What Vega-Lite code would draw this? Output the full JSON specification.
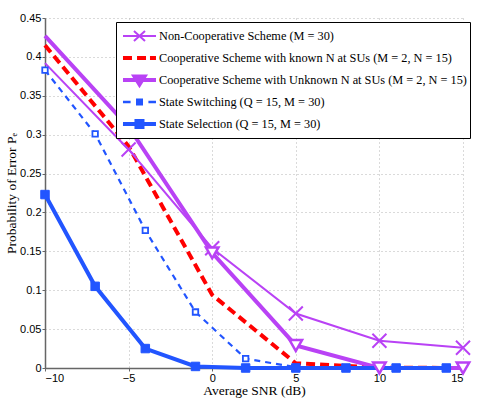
{
  "$schema": "https://vega.github.io/schema/vega-lite/v6.json",
  "width": 418,
  "height": 350,
  "autosize": {"type": "none"},
  "padding": {"left": 45, "top": 18, "right": 22, "bottom": 31},
  "background": "white",
  "config": {
    "view": {"stroke": null},
    "axis": {
      "labelFont": "Liberation Sans",
      "labelFontSize": 11,
      "labelColor": "black",
      "titleFont": "Liberation Serif",
      "titleFontSize": 13.5,
      "titleFontWeight": "normal",
      "titleColor": "black",
      "domainColor": "#666666",
      "domainWidth": 1.5,
      "tickColor": "#666666",
      "tickSize": 3,
      "labelPadding": 1,
      "grid": true,
      "gridColor": "#b5b5b5",
      "gridDash": [1, 3],
      "gridWidth": 1
    }
  },
  "data": {
    "values": [
      {"series": "Non-Cooperative Scheme (M = 30)", "snr": -10, "pe": 0.392},
      {"series": "Non-Cooperative Scheme (M = 30)", "snr": -5, "pe": 0.281},
      {"series": "Non-Cooperative Scheme (M = 30)", "snr": 0, "pe": 0.154},
      {"series": "Non-Cooperative Scheme (M = 30)", "snr": 5, "pe": 0.070},
      {"series": "Non-Cooperative Scheme (M = 30)", "snr": 10, "pe": 0.035},
      {"series": "Non-Cooperative Scheme (M = 30)", "snr": 15, "pe": 0.026},
      {"series": "Cooperative Scheme with known N at SUs (M = 2, N = 15)", "snr": -10, "pe": 0.415},
      {"series": "Cooperative Scheme with known N at SUs (M = 2, N = 15)", "snr": -5, "pe": 0.285},
      {"series": "Cooperative Scheme with known N at SUs (M = 2, N = 15)", "snr": 0, "pe": 0.094},
      {"series": "Cooperative Scheme with known N at SUs (M = 2, N = 15)", "snr": 5, "pe": 0.006},
      {"series": "Cooperative Scheme with known N at SUs (M = 2, N = 15)", "snr": 10, "pe": 0.0005},
      {"series": "Cooperative Scheme with known N at SUs (M = 2, N = 15)", "snr": 15, "pe": 0},
      {"series": "Cooperative Scheme with Unknown N at SUs (M = 2, N = 15)", "snr": -10, "pe": 0.427},
      {"series": "Cooperative Scheme with Unknown N at SUs (M = 2, N = 15)", "snr": -5, "pe": 0.31},
      {"series": "Cooperative Scheme with Unknown N at SUs (M = 2, N = 15)", "snr": 0, "pe": 0.148},
      {"series": "Cooperative Scheme with Unknown N at SUs (M = 2, N = 15)", "snr": 5, "pe": 0.029},
      {"series": "Cooperative Scheme with Unknown N at SUs (M = 2, N = 15)", "snr": 10, "pe": 0},
      {"series": "Cooperative Scheme with Unknown N at SUs (M = 2, N = 15)", "snr": 15, "pe": 0},
      {"series": "State Switching (Q = 15, M = 30)", "snr": -10, "pe": 0.383},
      {"series": "State Switching (Q = 15, M = 30)", "snr": -7, "pe": 0.301},
      {"series": "State Switching (Q = 15, M = 30)", "snr": -4, "pe": 0.177},
      {"series": "State Switching (Q = 15, M = 30)", "snr": -1, "pe": 0.072},
      {"series": "State Switching (Q = 15, M = 30)", "snr": 2, "pe": 0.012},
      {"series": "State Switching (Q = 15, M = 30)", "snr": 5, "pe": 0.001},
      {"series": "State Switching (Q = 15, M = 30)", "snr": 8, "pe": 0},
      {"series": "State Switching (Q = 15, M = 30)", "snr": 11, "pe": 0},
      {"series": "State Switching (Q = 15, M = 30)", "snr": 14, "pe": 0},
      {"series": "State Selection (Q = 15, M = 30)", "snr": -10, "pe": 0.223},
      {"series": "State Selection (Q = 15, M = 30)", "snr": -7, "pe": 0.105},
      {"series": "State Selection (Q = 15, M = 30)", "snr": -4, "pe": 0.025},
      {"series": "State Selection (Q = 15, M = 30)", "snr": -1, "pe": 0.002},
      {"series": "State Selection (Q = 15, M = 30)", "snr": 2, "pe": 0},
      {"series": "State Selection (Q = 15, M = 30)", "snr": 5, "pe": 0},
      {"series": "State Selection (Q = 15, M = 30)", "snr": 8, "pe": 0},
      {"series": "State Selection (Q = 15, M = 30)", "snr": 11, "pe": 0},
      {"series": "State Selection (Q = 15, M = 30)", "snr": 14, "pe": 0}
    ]
  },
  "encoding": {
    "x": {
      "field": "snr",
      "type": "quantitative",
      "scale": {"domain": [-10, 15], "nice": false, "zero": false},
      "axis": {"title": "Average SNR (dB)", "values": [-10, -5, 0, 5, 10, 15], "titlePadding": 0}
    },
    "y": {
      "field": "pe",
      "type": "quantitative",
      "scale": {"domain": [0, 0.45], "nice": false},
      "axis": {"title": "Probability of Error Pₑ", "values": [0, 0.05, 0.1, 0.15, 0.2, 0.25, 0.3, 0.35, 0.4, 0.45], "format": "~g", "titlePadding": 1}
    }
  },
  "layer": [
    {
      "transform": [{"filter": "datum.series === 'Cooperative Scheme with known N at SUs (M = 2, N = 15)'"}],
      "mark": {"type": "line", "color": "#ff0000", "strokeWidth": 4, "strokeDash": [9, 5], "strokeCap": "butt"},
      "encoding": {}
    },
    {
      "transform": [{"filter": "datum.series === 'Cooperative Scheme with Unknown N at SUs (M = 2, N = 15)'"}],
      "mark": {"type": "line", "color": "#b942f5", "strokeWidth": 4, "strokeCap": "butt"},
      "encoding": {}
    },
    {
      "transform": [{"filter": "datum.series === 'State Switching (Q = 15, M = 30)'"}],
      "mark": {"type": "line", "color": "#2255ff", "strokeWidth": 2.2, "strokeDash": [6, 5], "strokeCap": "butt"},
      "encoding": {}
    },
    {
      "transform": [{"filter": "datum.series === 'State Selection (Q = 15, M = 30)'"}],
      "mark": {"type": "line", "color": "#2255ff", "strokeWidth": 4, "strokeCap": "butt"},
      "encoding": {}
    },
    {
      "transform": [{"filter": "datum.series === 'Non-Cooperative Scheme (M = 30)'"}],
      "mark": {"type": "line", "strokeCap": "butt"},
      "encoding": {
        "color": {
          "field": "series",
          "type": "nominal",
          "scale": {
            "domain": [
              "Non-Cooperative Scheme (M = 30)",
              "Cooperative Scheme with known N at SUs (M = 2, N = 15)",
              "Cooperative Scheme with Unknown N at SUs (M = 2, N = 15)",
              "State Switching (Q = 15, M = 30)",
              "State Selection (Q = 15, M = 30)"
            ],
            "range": ["#b942f5", "#ff0000", "#b942f5", "#2255ff", "#2255ff"]
          },
          "legend": {
            "title": null,
            "orient": "none",
            "legendX": 71,
            "legendY": 4,
            "zindex": 2,
            "padding": 3,
            "strokeColor": "black",
            "fillColor": "white",
            "cornerRadius": 0,
            "labelFont": "Liberation Serif",
            "labelFontSize": 12.3,
            "labelColor": "black",
            "labelLimit": 400,
            "symbolSize": 144,
            "symbolStrokeWidth": 2,
            "clipHeight": 22,
            "rowPadding": 0,
            "encode": {
              "symbols": {
                "update": {
                  "x": {"value": 11},
                  "shape": {"signal": "['M-1.17,0H4.33M0.66,-0.83L2.5,0.83M0.66,0.83L2.5,-0.83', 'M-1.17,0H0.33M1.17,0H2.67M3.33,0H4.33', 'M-1.17,0H4.33M0.75,-0.6H2.41L1.58,0.75Z', 'M-1.17,0H0.1M3.07,0H4.33M1.21,-0.38H1.96V0.38H1.21Z', 'M-1.17,0H4.33M1.08,-0.5H2.08V0.5H1.08Z'][indexof(domain('color'), datum.value)]"},
                  "strokeWidth": {"signal": "[2, 4, 4, 2.5, 4][indexof(domain('color'), datum.value)]"},
                  "stroke": {"signal": "scale('color', datum.value)"},
                  "fill": {"signal": "scale('color', datum.value)"},
                  "strokeDash": {"value": []},
                  "opacity": {"value": 1},
                  "size": {"value": 144}
                }
              },
              "labels": {
                "update": {
                  "x": {"value": 40}
                }
              }
            }
          }
        },
        "strokeWidth": {"value": 2}
      }
    },
    {
      "transform": [{"filter": "datum.series === 'Non-Cooperative Scheme (M = 30)' && datum.snr > -10"}],
      "mark": {"type": "point", "shape": "M-1,-1L1,1M-1,1L1,-1", "size": 196, "filled": false, "color": "#b942f5", "strokeWidth": 2, "opacity": 1},
      "encoding": {}
    },
    {
      "transform": [{"filter": "datum.series === 'Cooperative Scheme with Unknown N at SUs (M = 2, N = 15)' && datum.snr > -10"}],
      "mark": {"type": "point", "shape": "M-1,-0.87H1L0,0.87Z", "size": 156, "filled": false, "stroke": "#b942f5", "fill": "white", "strokeWidth": 2.5, "opacity": 1},
      "encoding": {}
    },
    {
      "transform": [{"filter": "datum.series === 'State Switching (Q = 15, M = 30)'"}],
      "mark": {"type": "point", "shape": "square", "size": 30, "filled": false, "stroke": "#2255ff", "fill": "white", "strokeWidth": 1.8, "opacity": 1},
      "encoding": {}
    },
    {
      "transform": [{"filter": "datum.series === 'State Selection (Q = 15, M = 30)'"}],
      "mark": {"type": "point", "shape": "square", "size": 72, "filled": true, "color": "#2255ff", "stroke": "#2255ff", "strokeWidth": 1, "opacity": 1},
      "encoding": {}
    }
  ]
}
